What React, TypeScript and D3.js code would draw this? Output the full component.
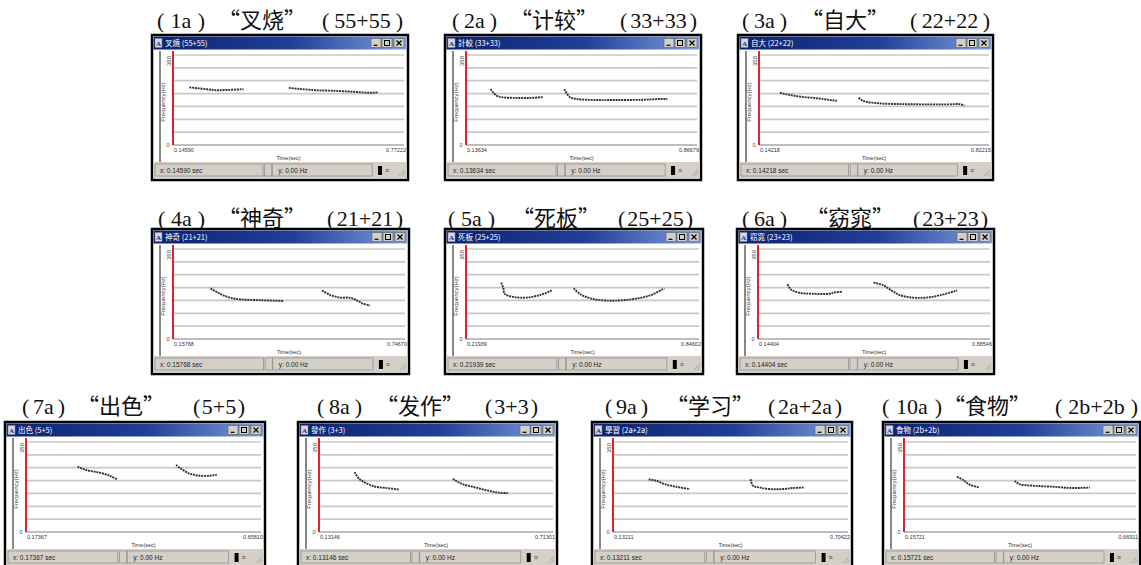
import React from "react";
import * as d3 from "d3";

type Pt = [number, number];

// ---------- data ----------
const panelIds = ["1a", "2a", "3a", "4a", "5a", "6a", "7a", "8a", "9a", "10a"];
const words = ["叉烧", "计较", "自大", "神奇", "死板", "窈窕", "出色", "发作", "学习", "食物"];
const toneLabels = ["55+55", "33+33", "22+22", "21+21", "25+25", "23+23", "5+5", "3+3", "2a+2a", "2b+2b"];
const windowTitles = ["叉燒 (55+55)", "計較 (33+33)", "自大 (22+22)", "神奇 (21+21)", "死板 (25+25)", "窈窕 (23+23)", "出色 (5+5)", "發作 (3+3)", "學習 (2a+2a)", "食物 (2b+2b)"];
const timeStart = [0.1459, 0.13634, 0.14218, 0.15768, 0.21939, 0.14404, 0.17367, 0.13146, 0.13211, 0.15721];
const timeEnd = [0.77222, 0.86679, 0.82215, 0.7467, 0.84602, 0.88546, 0.6581, 0.71301, 0.70422, 0.66911];
const freqTicks = [0, 50, 100, 150, 200, 250, 300, 350];

// pitch tracks: [time (s), F0 (Hz)] for syllable 1 and syllable 2
const pitch1a: Pt[][] = [
  [[0.190, 224], [0.237, 217], [0.264, 213], [0.292, 214], [0.337, 217]],
  [[0.460, 222], [0.490, 218], [0.535, 213], [0.580, 211], [0.635, 207], [0.680, 203], [0.702, 205]],
];
const pitch2a: Pt[][] = [
  [[0.214, 217], [0.233, 192], [0.249, 186], [0.297, 183], [0.339, 183], [0.379, 186]],
  [[0.447, 217], [0.465, 186], [0.486, 179], [0.550, 175], [0.613, 175], [0.697, 176], [0.750, 179], [0.773, 179]],
];
const pitch3a: Pt[][] = [
  [[0.204, 203], [0.224, 197], [0.263, 188], [0.312, 182], [0.351, 175], [0.373, 172]],
  [[0.437, 184], [0.449, 172], [0.498, 162], [0.567, 159], [0.636, 158], [0.704, 158], [0.734, 159], [0.749, 154]],
];
const pitch4a: Pt[][] = [
  [[0.253, 197], [0.277, 176], [0.302, 161], [0.328, 154], [0.362, 152], [0.396, 150], [0.438, 148]],
  [[0.536, 189], [0.557, 171], [0.583, 161], [0.604, 161], [0.621, 153], [0.638, 139], [0.658, 130]],
];
const pitch5a: Pt[][] = [
  [[0.314, 219], [0.320, 197], [0.323, 176], [0.346, 164], [0.382, 161], [0.418, 171], [0.450, 189]],
  [[0.509, 197], [0.527, 174], [0.554, 158], [0.590, 150], [0.635, 150], [0.681, 158], [0.717, 171], [0.753, 197]],
];
const pitch6a: Pt[][] = [
  [[0.238, 213], [0.249, 193], [0.276, 180], [0.318, 176], [0.372, 176], [0.388, 181], [0.413, 184]],
  [[0.513, 219], [0.543, 210], [0.565, 193], [0.597, 171], [0.639, 161], [0.682, 161], [0.725, 170], [0.781, 189]],
];
const pitch7a: Pt[][] = [
  [[0.280, 254], [0.298, 241], [0.325, 231], [0.346, 219], [0.361, 205]],
  [[0.483, 261], [0.494, 245], [0.512, 226], [0.532, 219], [0.553, 219], [0.567, 223]],
];
const pitch8a: Pt[][] = [
  [[0.220, 233], [0.231, 207], [0.244, 194], [0.269, 177], [0.294, 172], [0.331, 165]],
  [[0.464, 207], [0.485, 188], [0.518, 174], [0.552, 161], [0.577, 153], [0.601, 151]],
];
const pitch9a: Pt[][] = [
  [[0.219, 205], [0.238, 199], [0.258, 186], [0.286, 176], [0.319, 167]],
  [[0.467, 205], [0.473, 180], [0.489, 173], [0.513, 167], [0.546, 167], [0.570, 171], [0.596, 173]],
];
const pitch10a: Pt[][] = [
  [[0.274, 215], [0.288, 202], [0.302, 184], [0.324, 173]],
  [[0.401, 199], [0.412, 186], [0.442, 180], [0.486, 176], [0.530, 171], [0.567, 173]],
];
const pitchTracks = [pitch1a, pitch2a, pitch3a, pitch4a, pitch5a, pitch6a, pitch7a, pitch8a, pitch9a, pitch10a];

// ---------- layout ----------
const WIN_H = 145;
const layout = [
  { x: 152, y: 35, w: 256, base: 28, lab: [157, 205], word: 218, tone: [322, 403] },
  { x: 445, y: 35, w: 256, base: 28, lab: [452, 497], word: 510, tone: [620, 697] },
  { x: 738, y: 35, w: 255, base: 28, lab: [742, 787], word: 801, tone: [910, 990] },
  { x: 152, y: 229, w: 257, base: 226, lab: [158, 205], word: 218, tone: [327, 403] },
  { x: 445, y: 229, w: 258, base: 226, lab: [448, 495], word: 512, tone: [618, 693] },
  { x: 737, y: 229, w: 257, base: 226, lab: [742, 787], word: 806, tone: [913, 988] },
  { x: 5, y: 422, w: 260, base: 414, lab: [22, 65], word: 77, tone: [193, 245] },
  { x: 298, y: 422, w: 259, base: 414, lab: [317, 362], word: 376, tone: [485, 538] },
  { x: 592, y: 422, w: 260, base: 414, lab: [605, 648], word: 666, tone: [768, 842] },
  { x: 883, y: 422, w: 257, base: 414, lab: [882, 942], word: 943, tone: [1055, 1138] },
];

const serif = "'Liberation Serif', 'DejaVu Serif', serif";
const cjk = "'Noto Sans CJK SC', sans-serif";
const sans = "'Liberation Sans', Arial, sans-serif";

function Window({ i }: { i: number }) {
  const L = layout[i];
  const w = L.w;
  const px0 = 21;
  const px1 = w - 4;
  const py0 = 20;
  const py1 = 110;
  const x = d3.scaleLinear().domain([timeStart[i], timeEnd[i]]).range([px0, px1]);
  const y = d3.scaleLinear().domain([0, 350]).range([py1, py0]);
  const line = d3
    .line<Pt>()
    .x((d) => x(d[0]))
    .y((d) => y(d[1]))
    .curve(d3.curveCatmullRom);
  const btnX = [w - 37, w - 26, w - 14];
  return (
    <g transform={`translate(${L.x},${L.y})`}>
      <rect x={0} y={0} width={w} height={WIN_H} fill="#ffffff" stroke="#000" strokeWidth={2.5} />
      {/* title bar */}
      <rect x={1.5} y={1.5} width={w - 3} height={13} fill="url(#tbar)" />
      <rect x={3} y={3.5} width={7} height={9} fill="#d8d8e8" stroke="#808080" strokeWidth={0.5} />
      <text x={6.5} y={11} fontSize={7} textAnchor="middle" fill="#1a2a80" fontFamily={serif} fontWeight="bold">
        A
      </text>
      <text x={13} y={11} fontSize={7.5} fill="#ffffff" fontFamily="'Noto Sans CJK TC', sans-serif">
        {windowTitles[i]}
      </text>
      {btnX.map((bx, k) => (
        <g key={k}>
          <rect x={bx} y={3.5} width={10} height={9} fill="#d4d0c8" stroke="#5a5a5a" strokeWidth={0.6} />
          {k === 0 && <line x1={bx + 2.5} x2={bx + 6.5} y1={10.3} y2={10.3} stroke="#000" strokeWidth={1.2} />}
          {k === 1 && <rect x={bx + 2.5} y={5.5} width={5} height={5} fill="none" stroke="#000" strokeWidth={1} />}
          {k === 2 && (
            <path d={`M${bx + 2.5},${5.5}L${bx + 7.5},${10.5}M${bx + 7.5},${5.5}L${bx + 2.5},${10.5}`} stroke="#000" strokeWidth={1.2} />
          )}
        </g>
      ))}
      {/* left frame line */}
      <line x1={8} x2={8} y1={16} y2={127} stroke="#111" strokeWidth={1} />
      {/* grid */}
      {freqTicks.map((v) => (
        <line
          key={v}
          x1={px0}
          x2={px1}
          y1={y(v)}
          y2={y(v)}
          stroke={v === 0 ? "#a8a8a8" : "#c8c8c8"}
          strokeWidth={v === 0 ? 1.3 : 1.7}
        />
      ))}
      {/* red cursor */}
      <line x1={px0} x2={px0} y1={py0 - 4} y2={py1} stroke="#e0242a" strokeWidth={2} />
      {/* y labels */}
      <text
        transform={`translate(18.5,${py0 + 1}) rotate(-90)`}
        fontSize={6}
        textAnchor="end"
        fill="#444"
        fontFamily={sans}
      >
        350
      </text>
      <text x={17.5} y={py1 + 2} fontSize={5.5} textAnchor="end" fill="#444" fontFamily={sans}>
        0
      </text>
      <text
        transform={`translate(13,${(py0 + py1) / 2 + 2}) rotate(-90)`}
        fontSize={6}
        textAnchor="middle"
        fill="#444"
        fontFamily={sans}
      >
        Frequency(Hz)
      </text>
      {/* pitch tracks */}
      {pitchTracks[i].map((seg, k) => (
        <path
          key={k}
          d={line(seg) || ""}
          fill="none"
          stroke="#333"
          strokeWidth={1.9}
          strokeDasharray="2 0.8"
        />
      ))}
      {/* x labels */}
      <text x={px0 + 1} y={117} fontSize={5.5} fill="#333" fontFamily={sans}>
        {timeStart[i].toFixed(5)}
      </text>
      <text x={w - 2} y={117} fontSize={5.5} textAnchor="end" fill="#333" fontFamily={sans}>
        {timeEnd[i].toFixed(5)}
      </text>
      <text x={(px0 + px1) / 2} y={124.5} fontSize={5.5} textAnchor="middle" fill="#333" fontFamily={sans}>
        Time(sec)
      </text>
      {/* status bar */}
      <rect x={1.5} y={127} width={w - 3} height={16.5} fill="#d4d0c8" />
      <rect x={3} y={129} width={w * 0.43 - 2} height={12} fill="#d4d0c8" stroke="#8a8a8a" strokeWidth={0.7} />
      <text x={8} y={138} fontSize={6.5} fill="#222" fontFamily={sans}>
        {`x: ${timeStart[i].toFixed(5)} sec`}
      </text>
      <rect x={w * 0.44} y={129} width={w * 0.028} height={12} fill="#d4d0c8" stroke="#8a8a8a" strokeWidth={0.7} />
      <rect x={w * 0.47} y={129} width={w * 0.39} height={12} fill="#d4d0c8" stroke="#8a8a8a" strokeWidth={0.7} />
      <text x={w * 0.47 + 6} y={138} fontSize={6.5} fill="#222" fontFamily={sans}>
        y: 0.00 Hz
      </text>
      <rect x={w * 0.883} y={131} width={4} height={9} fill="#000" />
      <text x={w * 0.91} y={138} fontSize={7} fill="#444" fontFamily={sans}>
        ≡
      </text>
      <path
        d={`M${w - 9},${141} L${w - 3},${135} M${w - 6},${141} L${w - 3},${138}`}
        stroke="#999"
        strokeWidth={0.8}
      />
    </g>
  );
}

function Paren({ x0, x1, base, inner }: { x0: number; x1: number; base: number; inner: string }) {
  return (
    <text x={x0} y={base} fontFamily={serif} fontSize={22} fill="#111">
      <tspan x={x0}>(</tspan>
      <tspan x={(x0 + x1) / 2} textAnchor="middle">
        {inner}
      </tspan>
      <tspan x={x1} textAnchor="end">)</tspan>
    </text>
  );
}

function Caption({ i }: { i: number }) {
  const L = layout[i];
  return (
    <g>
      <Paren x0={L.lab[0]} x1={L.lab[1]} base={L.base} inner={panelIds[i]} />
      <text x={L.word} y={L.base} fontFamily={cjk} fontSize={22} fill="#111">
        {`“${words[i]}”`}
      </text>
      <Paren x0={L.tone[0]} x1={L.tone[1]} base={L.base} inner={toneLabels[i]} />
    </g>
  );
}

export default function App() {
  const idx = d3.range(panelIds.length);
  return (
    <svg
      width={1141}
      height={565}
      viewBox="0 0 1141 565"
      style={{ position: "absolute", left: 0, top: 0, background: "#fff" }}
    >
      <defs>
        <linearGradient id="tbar" x1="0" x2="1" y1="0" y2="0">
          <stop offset="0" stopColor="#0b2270" />
          <stop offset="0.55" stopColor="#213f98" />
          <stop offset="1" stopColor="#7d9fdc" />
        </linearGradient>
      </defs>
      <rect x={0} y={0} width={1141} height={565} fill="#fff" />
      {idx.map((i) => (
        <Caption key={`c${i}`} i={i} />
      ))}
      {idx.map((i) => (
        <Window key={`w${i}`} i={i} />
      ))}
    </svg>
  );
}
